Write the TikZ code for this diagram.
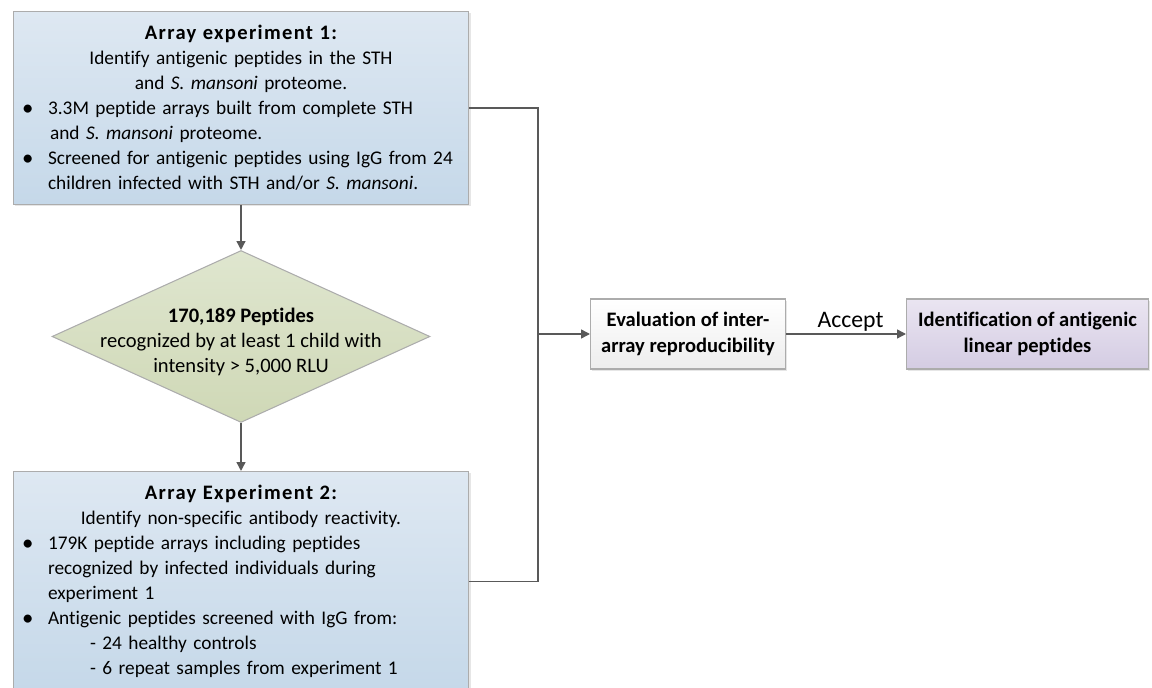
\documentclass[tikz,border=0pt]{standalone}
\usepackage{fontspec}
\setmainfont{Carlito}[Ligatures=NoCommon]
\usetikzlibrary{positioning,shapes.geometric,arrows.meta,shadows}
\definecolor{myblue}{RGB}{222,232,242}
\definecolor{mybluedark}{RGB}{197,216,233}
\definecolor{mygreen}{RGB}{223,230,207}
\definecolor{mygreendark}{RGB}{207,216,182}
\definecolor{mylilac}{RGB}{234,229,241}
\definecolor{mylilacdark}{RGB}{212,204,227}
\definecolor{mygray}{RGB}{89,89,89}
\definecolor{myedge}{RGB}{172,172,172}
\newcommand{\bul}{\par\noindent\makebox[0.52cm][l]{\raisebox{-0.3pt}{\fontsize{13}{14.2}\selectfont\textbullet}}}
\newcommand{\cont}[1]{\par\noindent\hspace*{#1}}
\newcommand{\ttl}[1]{{\fontsize{11.7}{14.2}\selectfont\bfseries\addfontfeature{LetterSpace=6.5}#1}}

\begin{document}
\begin{tikzpicture}[x=0.02cm, y=-0.02cm,
    >={Triangle[length=5pt,width=5pt]},
    every node/.style={font=\fontsize{11}{14.2}\selectfont},
    expbox/.style={draw=myedge, line width=0.6pt, top color=myblue, bottom color=mybluedark,
      text width=8.76cm, inner xsep=0.18cm, inner ysep=0.28cm, align=left,
      drop shadow={opacity=0.2, shadow xshift=1pt, shadow yshift=-1pt}},
    smallbox/.style={draw=myedge, line width=0.6pt, minimum height=1.4cm, align=center,
      font=\fontsize{11.7}{14.4}\selectfont\bfseries,
      drop shadow={opacity=0.2, shadow xshift=1pt, shadow yshift=-1pt}},
    link/.style={draw=mygray, line width=0.8pt}]
  \useasboundingbox (0,0) rectangle (1152,688);

  \node[expbox] (exp1) at (241,108) {{\centering\ttl{Array experiment 1:}\\
      Identify antigenic peptides in the STH\\
      and \textit{S. mansoni} proteome.\par}
    \bul 3.3M peptide arrays built from complete STH
    \cont{0.56cm}and \textit{S. mansoni} proteome.
    \bul Screened for antigenic peptides using IgG from 24
    \cont{0.52cm}children infected with STH and/or \textit{S. mansoni}.};

  \node[diamond, draw=myedge, line width=0.6pt, top color=mygreen, bottom color=mygreendark,
    minimum width=7.56cm, minimum height=3.44cm, inner sep=0pt, below=0.9cm of exp1] (pep) {};
  \node[align=center, font=\fontsize{11.7}{14.4}\selectfont, yshift=-0.11cm] (peptext) at (pep)
    {\textbf{170,189 Peptides}\\recognized by at least 1 child with\\intensity > 5,000 RLU};

  \node[expbox, below=0.96cm of pep] (exp2) {{\centering\ttl{Array Experiment 2:}\\
      Identify non-specific antibody reactivity.\par}
    \bul 179K peptide arrays including peptides
    \cont{0.52cm}recognized by infected individuals during
    \cont{0.52cm}experiment 1
    \bul Antigenic peptides screened with IgG from:
    \cont{1.36cm}- 24 healthy controls
    \cont{1.36cm}- 6 repeat samples from experiment 1};

  \coordinate (bus) at (538,334);
  \node[smallbox, top color=white, bottom color=black!7, minimum width=3.9cm,
    right=1.04cm of bus] (eval) {Evaluation of inter-\\array reproducibility};
  \node[smallbox, top color=mylilac, bottom color=mylilacdark, minimum width=4.84cm,
    right=2.4cm of eval] (ident) {Identification of antigenic\\linear peptides};

  \foreach \a/\b in {exp1/pep, pep/exp2}
    \draw[link,->] (\a) -- (\b);
  \draw[link] (exp1.east) -| (bus) |- (exp2.east);
  \draw[link,->] (bus) -- (eval);
  \draw[link,->] (eval) -- node[above=-2pt, xshift=0.09cm, font=\fontsize{13.5}{16}\selectfont] (acc) {Accept} (ident);
\end{tikzpicture}
\end{document}
